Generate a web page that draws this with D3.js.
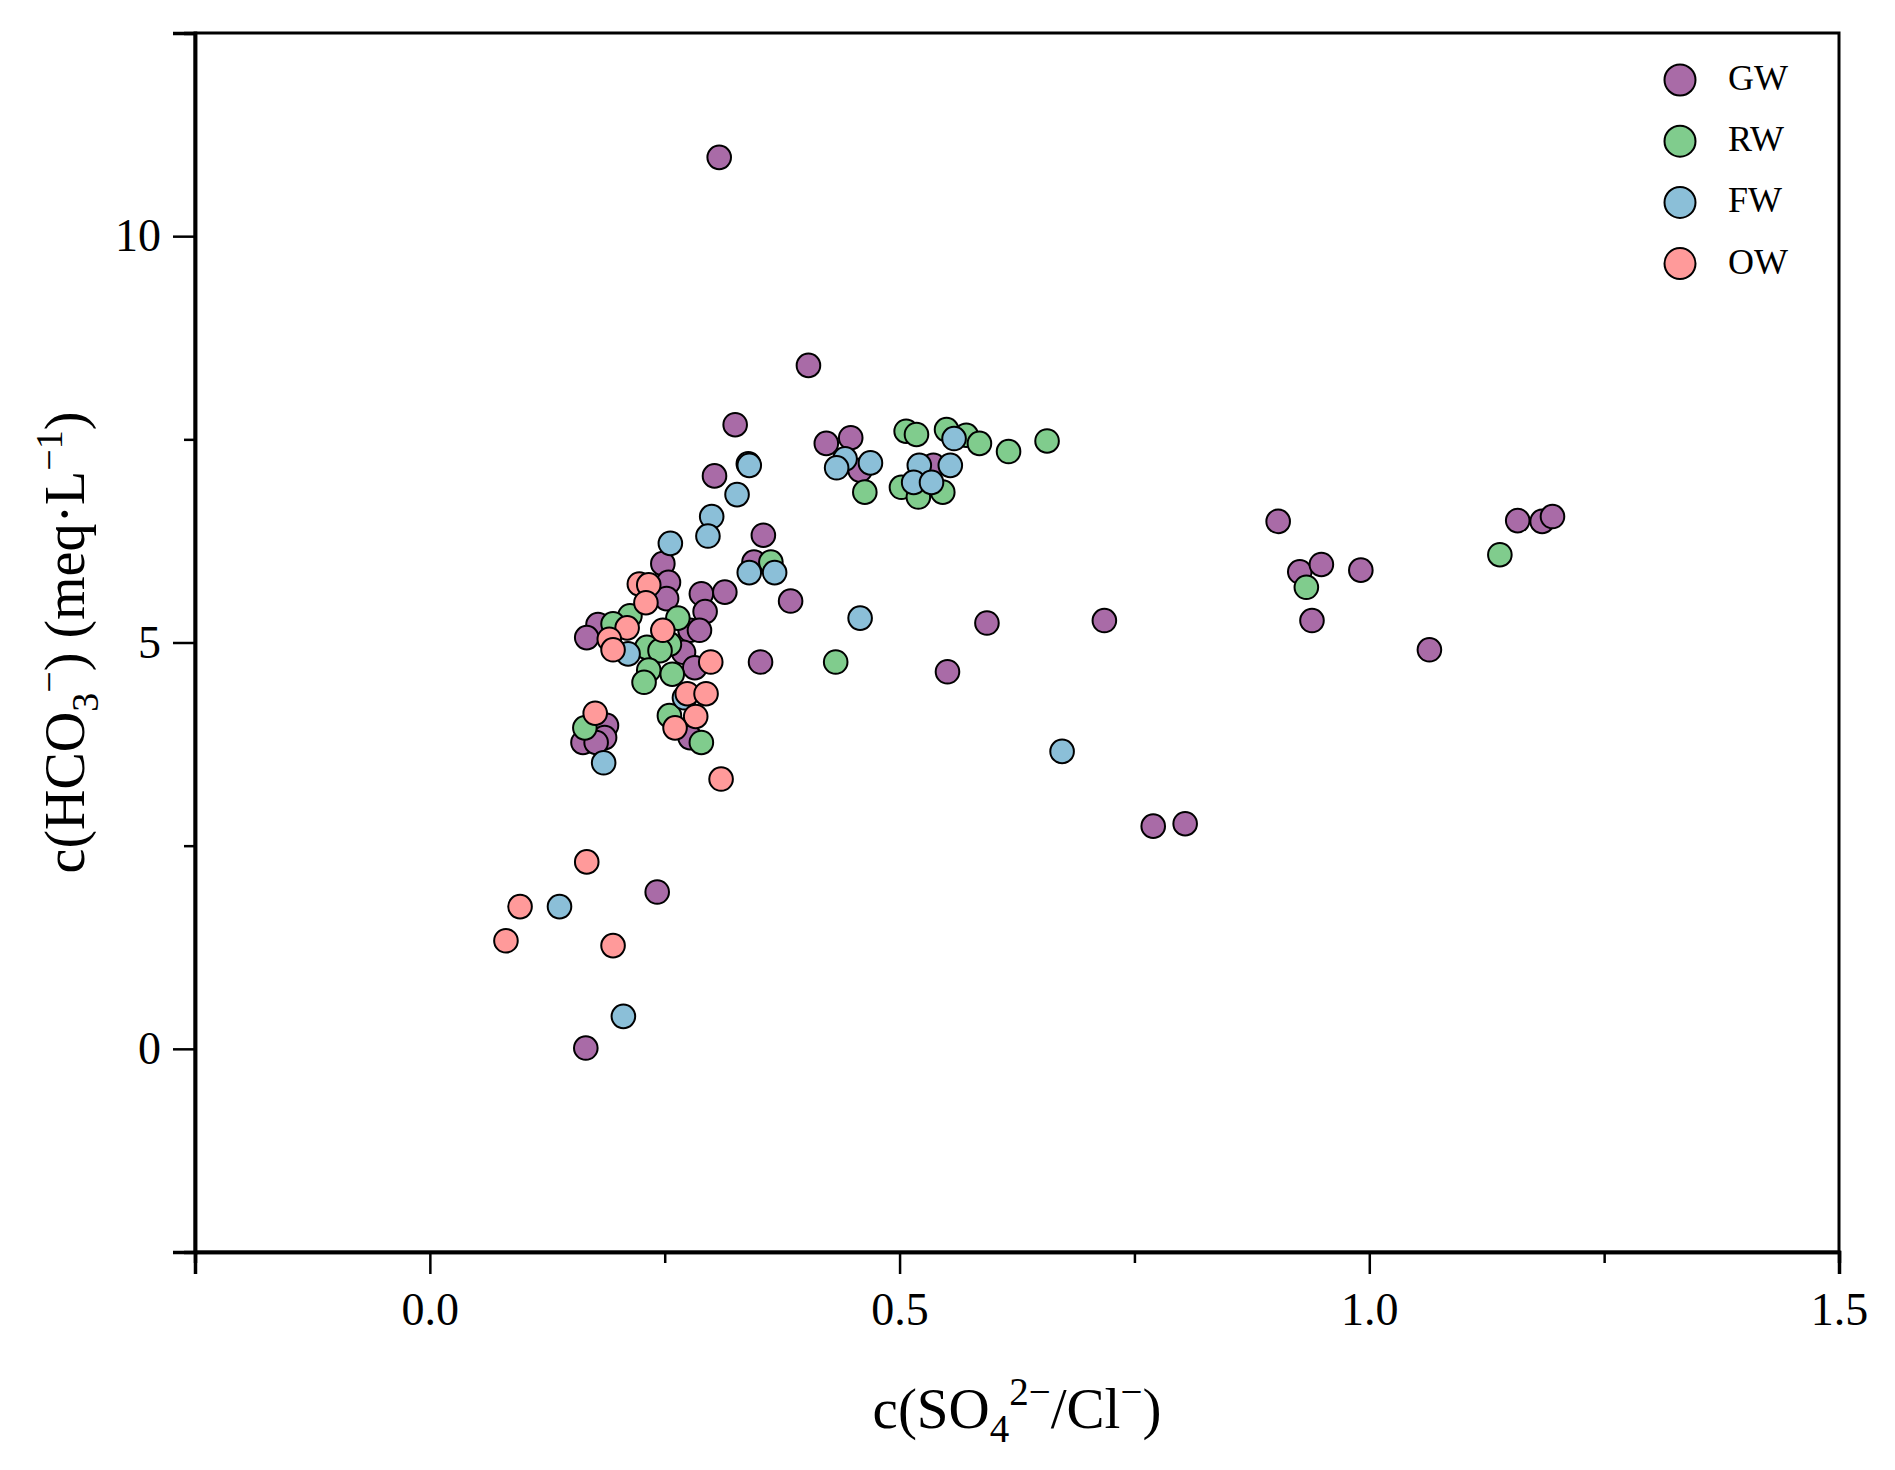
<!DOCTYPE html>
<html lang="en">
<head>
  <meta charset="UTF-8">
  <title>HCO3 vs SO4/Cl</title>
  <script src="https://cdn.jsdelivr.net/npm/d3@7.9.0/dist/d3.min.js"></script>
  <style>
    html, body { margin: 0; padding: 0; background: #fff; }
    svg { display: block; font-family: "Liberation Serif", "Times New Roman", serif; }
  </style>
</head>
<body>
<div id="chart"></div>
<script>
  // groups
  const groups = ["GW", "RW", "FW", "OW"];
  const colors = ["#A96BA7", "#80CC8D", "#8BBFD8", "#FF9A9A"];

  // SO4/Cl ratio (x) and HCO3 (y) per group
  const gwX = [0.308, 0.403, 0.325, 0.303, 0.422, 0.448, 0.458, 0.536, 0.355, 0.345, 0.248, 0.254, 0.252, 0.289, 0.314,
               0.293, 0.384, 0.277, 0.287, 0.179, 0.167, 0.270, 0.282, 0.352, 0.277, 0.188, 0.186, 0.163, 0.177, 0.551,
               0.593, 0.718, 0.770, 0.804, 0.903, 0.926, 0.949, 0.939, 0.991, 1.064, 1.158, 1.184, 1.195, 0.242, 0.166];
  const gwY = [10.97, 8.41, 7.68, 7.05, 7.45, 7.52, 7.12, 7.18, 6.32, 5.99, 5.97, 5.74, 5.54, 5.60, 5.62,
               5.38, 5.51, 5.15, 5.15, 5.22, 5.06, 4.88, 4.69, 4.76, 3.83, 3.98, 3.83, 3.77, 3.77, 4.64,
               5.24, 5.27, 2.74, 2.77, 6.49, 5.87, 5.96, 5.27, 5.89, 4.91, 6.50, 6.49, 6.55, 1.93, 0.01];

  const rwX = [0.507, 0.518, 0.550, 0.571, 0.585, 0.616, 0.657, 0.502, 0.520, 0.546, 0.463, 0.363, 0.432, 0.933,
               1.139, 0.213, 0.195, 0.264, 0.231, 0.255, 0.245, 0.233, 0.258, 0.228, 0.255, 0.289, 0.165];
  const rwY = [7.60, 7.56, 7.62, 7.55, 7.45, 7.35, 7.48, 6.91, 6.79, 6.85, 6.85, 5.99, 4.76, 5.68,
               6.08, 5.33, 5.23, 5.30, 4.94, 4.98, 4.90, 4.66, 4.61, 4.51, 4.10, 3.77, 3.95];

  const fwX = [0.339, 0.340, 0.327, 0.300, 0.296, 0.256, 0.340, 0.367, 0.442, 0.433, 0.469, 0.558, 0.521, 0.554,
               0.515, 0.534, 0.458, 0.673, 0.211, 0.271, 0.185, 0.138, 0.206];
  const fwY = [7.20, 7.18, 6.82, 6.55, 6.31, 6.22, 5.86, 5.86, 7.26, 7.15, 7.21, 7.51, 7.18, 7.18,
               6.97, 6.97, 5.30, 3.66, 4.86, 4.32, 3.52, 1.75, 0.40];

  const owX = [0.223, 0.233, 0.230, 0.248, 0.210, 0.191, 0.195, 0.299, 0.274, 0.294, 0.283, 0.261, 0.176, 0.310,
               0.167, 0.096, 0.081, 0.195];
  const owY = [5.72, 5.71, 5.49, 5.15, 5.18, 5.04, 4.91, 4.76, 4.37, 4.37, 4.09, 3.95, 4.13, 3.32,
               2.30, 1.75, 1.33, 1.27];

  const xTicks = [0, 0.5, 1.0, 1.5];
  const xMinor = [-0.25, 0.25, 0.75, 1.25];
  const yTicks = [0, 5, 10];
  const yMinor = [-2.5, 2.5, 7.5, 12.5];

  const seriesX = [gwX, rwX, fwX, owX];
  const seriesY = [gwY, rwY, fwY, owY];

  const W = 1895, H = 1470;
  const m = { left: 195, right: 56, top: 33, bottom: 218 };

  const svg = d3.select("#chart").append("svg")
    .attr("width", W).attr("height", H);

  const x = d3.scaleLinear().domain([-0.25, 1.5]).range([m.left, W - m.right]);
  const y = d3.scaleLinear().domain([-2.5, 12.5]).range([H - m.bottom, m.top]);

  // frame
  svg.append("rect")
    .attr("x", m.left).attr("y", m.top)
    .attr("width", W - m.left - m.right).attr("height", H - m.top - m.bottom)
    .attr("fill", "#fff").attr("stroke", "#000").attr("stroke-width", 3);

  // x axis
  const xAxis = svg.append("g").attr("transform", `translate(0,${H - m.bottom})`);
  xAxis.call(d3.axisBottom(x).tickValues(xTicks).tickSize(22).tickPadding(18).tickFormat(d3.format(".1f")));
  xAxis.append("g").call(d3.axisBottom(x).tickValues(xMinor).tickSize(11).tickFormat(""));
  xAxis.selectAll(".domain").attr("stroke-width", 3.5);
  xAxis.selectAll(".tick line").attr("stroke-width", 2.5);
  xAxis.selectAll("text").attr("font-size", 46).attr("font-family", "Liberation Serif").attr("fill", "#000");

  // y axis
  const yAxis = svg.append("g").attr("transform", `translate(${m.left},0)`);
  yAxis.call(d3.axisLeft(y).tickValues(yTicks).tickSize(22).tickPadding(12).tickFormat(d3.format("d")));
  yAxis.append("g").call(d3.axisLeft(y).tickValues(yMinor).tickSize(11).tickFormat(""));
  yAxis.selectAll(".domain").attr("stroke-width", 3.5);
  yAxis.selectAll(".tick line").attr("stroke-width", 2.5);
  yAxis.selectAll("text").attr("font-size", 46).attr("font-family", "Liberation Serif").attr("fill", "#000");

  // points, drawn group by group so later groups sit on top
  groups.forEach((g, i) => {
    const pts = seriesX[i].map((v, j) => [v, seriesY[i][j]]);
    svg.append("g").selectAll("circle")
      .data(pts)
      .enter().append("circle")
      .attr("cx", d => x(d[0]))
      .attr("cy", d => y(d[1]))
      .attr("r", 11.8)
      .attr("fill", colors[i])
      .attr("stroke", "#000")
      .attr("stroke-width", 2);
  });

  // legend
  const leg = svg.append("g");
  groups.forEach((g, i) => {
    const cy = 80 + i * 61.2;
    leg.append("circle").attr("cx", 1680).attr("cy", cy).attr("r", 15.5)
      .attr("fill", colors[i]).attr("stroke", "#000").attr("stroke-width", 2);
    leg.append("text").attr("x", 1728).attr("y", cy).attr("dy", "0.28em")
      .attr("font-size", 36).text(g);
  });

  // x title: c(SO4 2-/Cl-)
  const xt = svg.append("text")
    .attr("x", (m.left + W - m.right) / 2).attr("y", 1428)
    .attr("text-anchor", "middle").attr("font-size", 57);
  xt.append("tspan").text("c(SO");
  xt.append("tspan").attr("font-size", 39).attr("dy", 14).text("4");
  xt.append("tspan").attr("font-size", 39).attr("dy", -37).text("2\u2212");
  xt.append("tspan").attr("dy", 23).text("/Cl");
  xt.append("tspan").attr("font-size", 39).attr("dy", -23).text("\u2212");
  xt.append("tspan").attr("dy", 23).text(")");

  // y title: c(HCO3-) (meq·L-1)
  const yt = svg.append("text")
    .attr("transform", `translate(84,${(m.top + H - m.bottom) / 2}) rotate(-90)`)
    .attr("text-anchor", "middle").attr("font-size", 56);
  yt.append("tspan").text("c(HCO");
  yt.append("tspan").attr("font-size", 38).attr("dy", 14).text("3");
  yt.append("tspan").attr("font-size", 38).attr("dy", -36).text("\u2212");
  yt.append("tspan").attr("dy", 22).text(") (meq\u00B7L");
  yt.append("tspan").attr("font-size", 38).attr("dy", -22).text("\u22121");
  yt.append("tspan").attr("dy", 22).text(")");
</script>
</body>
</html>
